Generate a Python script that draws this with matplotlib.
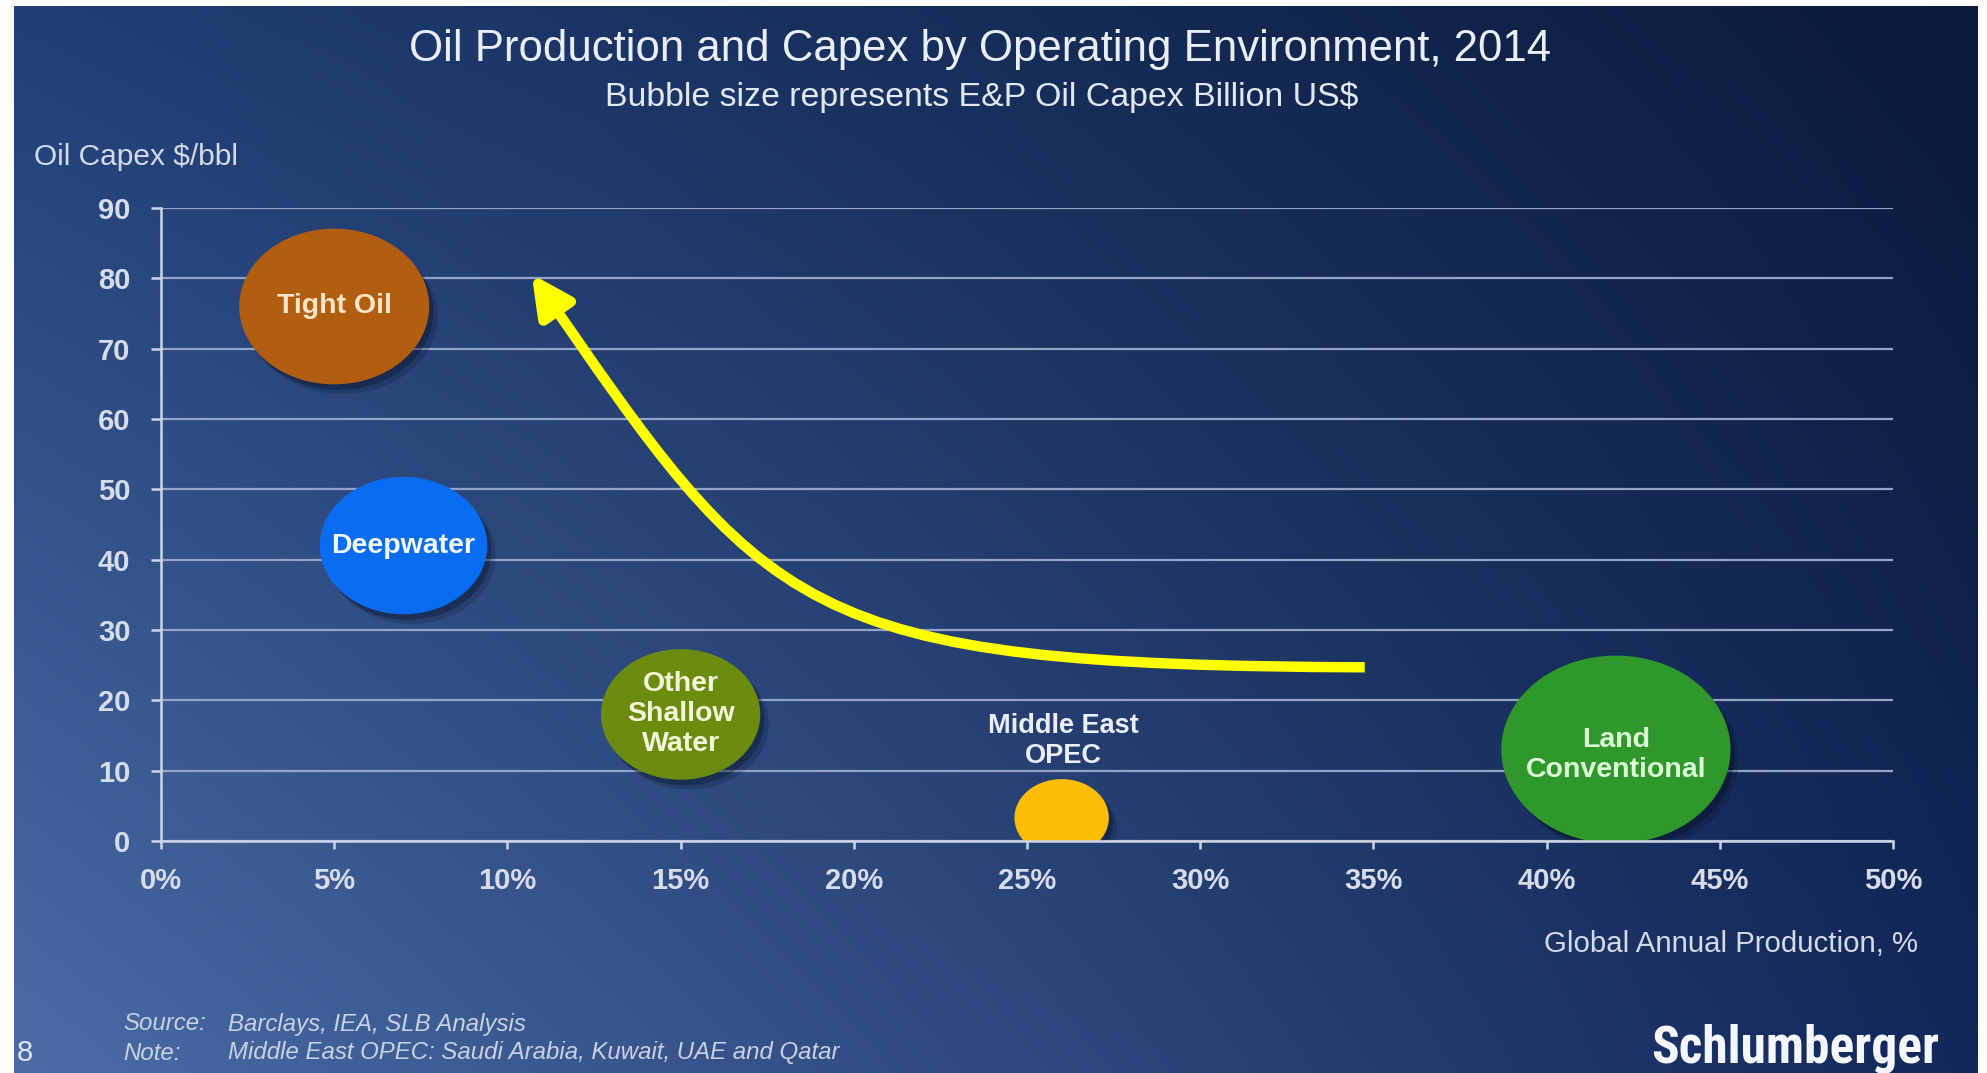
import numpy as np
import matplotlib
matplotlib.use("Agg")
import matplotlib.pyplot as plt
from matplotlib.path import Path
from matplotlib.patches import FancyArrowPatch
from matplotlib.colors import to_rgb
import matplotlib.patheffects as pe

# ---------------- data ----------------
environments = ["Tight Oil", "Deepwater", "Other\nShallow\nWater",
                "Middle East\nOPEC", "Land\nConventional"]
production_share = [5.0, 7.0, 15.0, 26.0, 42.0]      # Global annual production, %
capex_per_bbl = [76.0, 42.0, 18.0, 3.3, 13.0]         # Oil capex $/bbl
capex_billion = [81, 63, 57, 20, 118]                 # E&P oil capex, billion US$ (bubble size)
bubble_colors = ["#b25e10", "#0a6cf0", "#6b8c0f", "#fbbd06", "#2e982b"]
label_colors = ["#fde4c6", "#f2f7ff", "#f0f6d6", "#e9eef8", "#dcffd6"]

x_ticks = list(range(0, 51, 5))
x_tick_labels = [f"{v}%" for v in x_ticks]
y_ticks = list(range(0, 91, 10))

# ---------------- figure ----------------
W, H = 1987, 1073
DPI = 100
plt.rcParams["font.family"] = ["Liberation Sans", "DejaVu Sans"]
fig = plt.figure(figsize=(W / DPI, H / DPI), dpi=DPI, facecolor="white")

# gradient background
bg = fig.add_axes([14 / W, 0, (1978 - 14) / W, (H - 6) / H])
bg.axis("off")
tl = np.array(to_rgb("#203f76"))
tr = np.array(to_rgb("#0a1a3a"))
bl = np.array(to_rgb("#4b6ca6"))
br = np.array(to_rgb("#11285a"))
u = np.linspace(0, 1, 500)[None, :, None]
v = np.linspace(0, 1, 300)[:, None, None]
img = (1 - v) * ((1 - u) * tl + u * tr) + v * ((1 - u) * bl + u * br)
bg.imshow(np.clip(img, 0, 1), aspect="auto", extent=[0, 1, 0, 1], interpolation="bilinear")
bg.set_xlim(0, 1)
bg.set_ylim(0, 1)

# main axes
ax = fig.add_axes([161 / W, 1 - 841 / H, (1893 - 161) / W, (841 - 208) / H])
ax.set_facecolor("none")
ax.set_xlim(0, 50)
ax.set_ylim(0, 90)

grid_col = "#94a4c8"
ax.set_yticks(y_ticks)
ax.set_xticks(x_ticks)
ax.set_xticklabels(x_tick_labels)
ax.yaxis.grid(True, color=grid_col, linewidth=1.6, zorder=1)
ax.set_axisbelow(True)
for s in ["top", "right"]:
    ax.spines[s].set_visible(False)
for s in ["left", "bottom"]:
    ax.spines[s].set_color("#cdd5e6")
    ax.spines[s].set_linewidth(1.8)
    ax.spines[s].set_zorder(6)
ax.tick_params(axis="y", direction="out", length=7, width=1.8, color="#cdd5e6",
               labelsize=21, labelcolor="#d6dcea", pad=15)
ax.tick_params(axis="x", direction="out", length=6, width=1.8, color="#cdd5e6",
               labelsize=21, labelcolor="#d6dcea", pad=13)
for lab in ax.get_xticklabels() + ax.get_yticklabels():
    lab.set_fontweight("bold")

# ellipse bubble marker
theta = np.linspace(0, 2 * np.pi, 120)
ellipse = Path(np.column_stack([1.22 * np.cos(theta), np.sin(theta)]), closed=True)
size_scale = 231.0
sizes = [c * size_scale for c in capex_billion]

ax.scatter(production_share, capex_per_bbl, s=sizes, marker=ellipse,
           c=bubble_colors, edgecolors="none", zorder=3,
           path_effects=[pe.SimplePatchShadow(offset=(3, -4), shadow_rgbFace="#040a1c", alpha=0.3),
                         pe.SimplePatchShadow(offset=(6, -7), shadow_rgbFace="#040a1c", alpha=0.18),
                         pe.Normal()])

for name, x, y, col in zip(environments, production_share, capex_per_bbl, label_colors):
    if name.startswith("Middle East"):
        ax.annotate(name, (x, y), xytext=(1, 55), textcoords="offset points",
                    ha="center", va="center", fontsize=19.5, fontweight="bold",
                    color=col, linespacing=1.2, zorder=5, annotation_clip=False)
    elif name.startswith("Land"):
        ax.annotate(name, (x, y), xytext=(0, -4), textcoords="offset points",
                    ha="center", va="center", fontsize=20.5, fontweight="bold",
                    color=col, linespacing=1.2, zorder=5)
    else:
        ax.text(x, y, name, ha="center", va="center", fontsize=20.5, fontweight="bold",
                color=col, linespacing=1.2, zorder=5)

# yellow arrow (annotation)
arrow_start = (34.75, 24.7)
arrow_c1 = (18.3, 25.0)
arrow_c2 = (17.5, 32.0)
arrow_end = (10.7, 80.6)
arrow_path = Path([arrow_start, arrow_c1, arrow_c2, arrow_end],
                  [Path.MOVETO, Path.CURVE4, Path.CURVE4, Path.CURVE4])
arr = FancyArrowPatch(path=arrow_path, arrowstyle="-|>,head_length=1.2,head_width=0.6",
                      mutation_scale=20, color="#ffff00", linewidth=7.5,
                      transform=ax.transData, zorder=7, capstyle="butt")
ax.add_patch(arr)

# texts
fig.text(980 / W, 1 - 50 / H, "Oil Production and Capex by Operating Environment, 2014",
         ha="center", va="center", fontsize=31.5, color="#e9edf5")
fig.text(982 / W, 1 - 97 / H, "Bubble size represents E&P Oil Capex Billion US$",
         ha="center", va="center", fontsize=24.4, color="#e2e8f2")
fig.text(34 / W, 1 - 157 / H, "Oil Capex $/bbl", ha="left", va="center",
         fontsize=21.5, color="#d3dae8")
fig.text(1918 / W, 1 - 944 / H, "Global Annual Production, %", ha="right", va="center",
         fontsize=21.2, color="#d3dae8")

note_col = "#c9d2e4"
fig.text(123 / W, 1 - 1024 / H, "Source:", ha="left", va="center", fontsize=17.3,
         style="italic", color=note_col)
fig.text(228 / W, 1 - 1024 / H, "Barclays, IEA, SLB Analysis", ha="left", va="center",
         fontsize=17.3, style="italic", color=note_col)
fig.text(123 / W, 1 - 1053 / H, "Note:", ha="left", va="center", fontsize=17.3,
         style="italic", color=note_col)
fig.text(228 / W, 1 - 1053 / H, "Middle East OPEC: Saudi Arabia, Kuwait, UAE and Qatar",
         ha="left", va="center", fontsize=17.3, style="italic", color=note_col)
fig.text(17 / W, 1 - 1053 / H, "8", ha="left", va="center", fontsize=21, color="#dfe5f0")
fig.text(1939 / W, 1 - 1049 / H, "Schlumberger", ha="right", va="center",
         fontsize=37, fontweight="bold", fontstretch="condensed",
         family=["Roboto Condensed", "DejaVu Sans"], color="#f4f6fa")

fig.savefig("out.png", dpi=DPI, facecolor=fig.get_facecolor())
